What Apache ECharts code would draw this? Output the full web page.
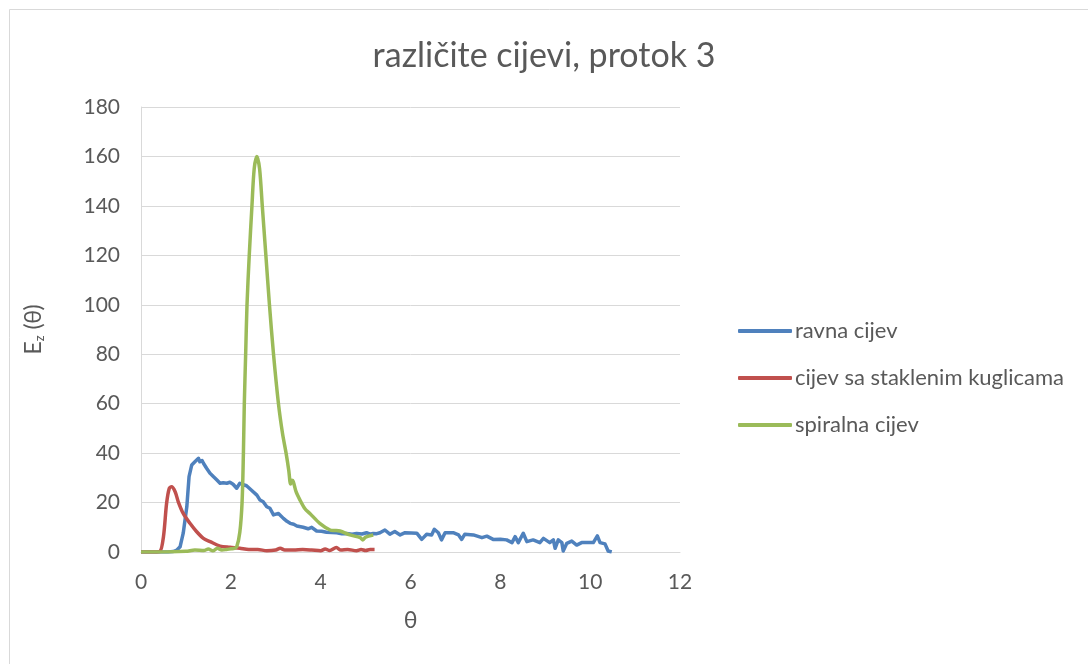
<!DOCTYPE html>
<html>
<head>
<meta charset="utf-8">
<script src="https://cdn.jsdelivr.net/npm/echarts@6/dist/echarts.min.js"></script>
<style>
  html, body { margin: 0; padding: 0; background: #fff; }
  #chart { width: 1088px; height: 664px; }
</style>
</head>
<body>
<div id="chart"></div>
<script>
// podaci očitani sa slike: [θ, Ez(θ)]
var seriesNames = ['ravna cijev', 'cijev sa staklenim kuglicama', 'spiralna cijev'];
var xTicks = [0, 2, 4, 6, 8, 10, 12];
var yTicks = [0, 20, 40, 60, 80, 100, 120, 140, 160, 180];

var ravnaCijev = [
  [0,0],[0.2,0],[0.4,0],[0.6,0],[0.72,0.2],[0.8,0.8],[0.87,2.1],[0.94,7.6],[1.02,18.3],[1.07,30.5],
  [1.13,35.2],[1.2,36.5],[1.28,37.9],[1.31,36.5],[1.36,37],[1.39,35.9],[1.46,33.9],[1.54,31.8],[1.61,30.5],
  [1.69,29.1],[1.76,27.8],[1.83,28],[1.91,27.8],[1.98,28.2],[2.05,27.4],[2.13,25.8],[2.2,27.8],[2.28,27.2],
  [2.35,26.8],[2.46,25],[2.58,23],[2.65,21],[2.72,20.3],[2.8,18.3],[2.87,17.7],[2.95,15],[3.06,15.6],
  [3.17,13.6],[3.25,12.4],[3.32,11.6],[3.4,11.2],[3.47,10.5],[3.61,10],[3.72,9.4],[3.76,9.2],[3.8,10],
  [3.91,8.5],[4.02,8.4],[4.13,8],[4.25,7.9],[4.36,7.8],[4.47,7.4],[4.58,7.5],[4.7,7.2],[4.8,7.5],
  [4.92,7.3],[5.02,7.8],[5.1,7.2],[5.17,7.5],[5.25,7.4],[5.32,7.8],[5.43,8.9],[5.54,7.2],[5.65,8.3],
  [5.77,6.9],[5.88,7.8],[5.91,7.8],[6.02,7.7],[6.14,7.6],[6.25,5.1],[6.36,7.2],[6.47,6.9],[6.53,9.2],
  [6.62,7.8],[6.69,4.9],[6.77,7.8],[6.95,7.8],[7.07,6.9],[7.14,5.1],[7.21,7.2],[7.4,6.9],[7.59,5.8],
  [7.7,6.4],[7.84,5.1],[8.0,5.2],[8.14,4.9],[8.26,3.8],[8.33,6.2],[8.4,3.8],[8.51,7.6],[8.59,4.2],
  [8.73,4.9],[8.88,3.8],[8.96,5.5],[9.1,3.8],[9.18,4.9],[9.22,1.5],[9.29,4.9],[9.37,3.8],[9.4,0.4],
  [9.48,3.5],[9.59,4.4],[9.7,2.8],[9.81,3.8],[10.07,3.8],[10.16,6.5],[10.22,3.8],[10.33,3.3],[10.4,0.4],[10.48,0]
];

var staklenimKuglicama = [
  [0,0],[0.3,0],[0.42,0.2],[0.5,6.2],[0.57,19.7],[0.63,25.8],[0.68,26.4],[0.76,24.4],[0.83,20.3],
  [0.94,15.6],[1.09,11.6],[1.24,8.2],[1.39,5.5],[1.54,4.2],[1.76,2.4],[1.98,1.9],[2.2,1.5],[2.4,1],
  [2.6,1],[2.8,0.5],[3.0,0.8],[3.1,1.5],[3.2,0.8],[3.4,0.8],[3.6,1],[3.8,0.8],[4.0,0.5],[4.1,1.2],
  [4.2,0.6],[4.35,1.8],[4.45,0.8],[4.6,1],[4.8,0.5],[4.9,1],[5.0,0.6],[5.1,1],[5.2,1]
];

var spiralnaCijev = [
  [0,0],[0.5,0],[1.0,0.3],[1.2,0.8],[1.4,0.6],[1.5,1.2],[1.6,0.5],[1.7,1.5],[1.8,0.8],[1.9,1],
  [2.0,1.3],[2.08,1.5],[2.13,2],[2.2,8],[2.25,20],[2.28,40],[2.3,60],[2.33,80],[2.36,100],[2.41,120],
  [2.47,140],[2.52,155],[2.58,160],[2.64,155],[2.7,140],[2.78,120],[2.86,100],[2.95,80],[3.06,60],
  [3.15,48],[3.23,40],[3.29,33],[3.33,27.5],[3.36,29],[3.39,28.5],[3.45,24.5],[3.54,21],[3.65,17.5],
  [3.76,15.6],[3.98,11.6],[4.21,8.9],[4.3,8.7],[4.43,8.5],[4.65,6.9],[4.88,5.8],[4.94,4.9],[5.0,6],[5.17,6.9]
];

var chart = echarts.init(document.getElementById('chart'));

var font = 'Lato, "Open Sans", sans-serif';
var textColor = '#595959';

var option = {
  backgroundColor: '#fff',
  animation: false,
  title: {
    text: 'različite cijevi, protok 3',
    left: 'center',
    top: 34,
    textStyle: { color: textColor, fontSize: 34, fontWeight: 'normal', fontFamily: font }
  },
  graphic: [{
    type: 'rect',
    shape: { x: 9.5, y: 9.5, width: 1100, height: 700 },
    style: { fill: 'none', stroke: '#d9d9d9', lineWidth: 1 },
    silent: true
  }],
  legend: {
    orient: 'vertical',
    left: 733,
    top: 315,
    itemWidth: 54,
    itemHeight: 4,
    itemGap: 25,
    icon: 'roundRect',
    data: seriesNames,
    textStyle: { color: textColor, fontSize: 22, fontFamily: font, padding: [0, 0, 0, -2] }
  },
  grid: { left: 141, right: 408, top: 107, bottom: 112 },
  xAxis: {
    type: 'value',
    min: 0, max: 12, interval: 2,
    name: 'θ',
    nameLocation: 'middle',
    nameGap: 57,
    nameTextStyle: { color: textColor, fontSize: 23, fontFamily: font },
    axisLine: { show: true, lineStyle: { color: '#d9d9d9' } },
    axisTick: { show: false },
    splitLine: { show: false },
    axisLabel: {
      color: textColor, fontSize: 21, fontFamily: font, margin: 20,
      formatter: function (v) { return xTicks.indexOf(v) >= 0 ? v : ''; }
    }
  },
  yAxis: {
    type: 'value',
    min: 0, max: 180, interval: 20,
    name: '{e|E}{s|z}{e| (θ)}',
    nameLocation: 'middle',
    nameGap: 95,
    nameTextStyle: {
      color: textColor, fontFamily: font,
      rich: {
        e: { fontSize: 23, color: textColor, fontFamily: font },
        s: { fontSize: 13, color: textColor, fontFamily: font, padding: [12, 0, 0, 0] }
      }
    },
    axisLine: { show: true, lineStyle: { color: '#d9d9d9' } },
    axisTick: { show: false },
    splitLine: { show: true, lineStyle: { color: '#d9d9d9', width: 1 } },
    axisLabel: {
      color: textColor, fontSize: 21, fontFamily: font, margin: 21,
      formatter: function (v) { return yTicks.indexOf(v) >= 0 ? v : ''; }
    }
  },
  series: [
    {
      name: seriesNames[0], type: 'line', data: ravnaCijev,
      showSymbol: false, symbol: 'none',
      color: '#4F81BD', lineStyle: { width: 3.5, color: '#4F81BD', join: 'round' }
    },
    {
      name: seriesNames[1], type: 'line', data: staklenimKuglicama,
      showSymbol: false, symbol: 'none', smooth: 0.3,
      color: '#C0504D', lineStyle: { width: 3.5, color: '#C0504D', join: 'round' }
    },
    {
      name: seriesNames[2], type: 'line', data: spiralnaCijev,
      showSymbol: false, symbol: 'none', smooth: 0.3,
      color: '#9BBB59', lineStyle: { width: 3.5, color: '#9BBB59', join: 'round' }
    }
  ]
};

chart.setOption(option);
</script>
</body>
</html>
